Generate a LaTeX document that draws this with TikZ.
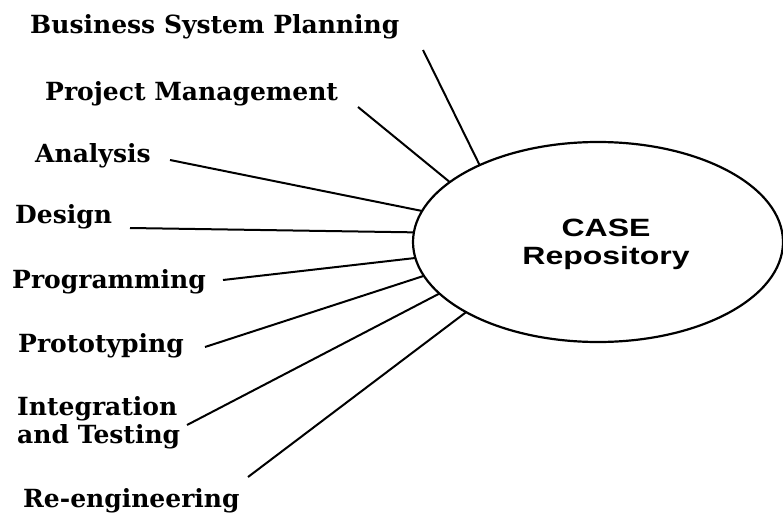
\documentclass[tikz,border=0pt]{standalone}
\usepackage{fontspec}
\usetikzlibrary{shapes.geometric}
\setmainfont{DejaVu Serif}
\newfontfamily\lblfont{DejaVu Serif Bold}
\newfontfamily\casefont[FakeStretch=1.28]{Liberation Sans Bold}
\begin{document}
\begin{tikzpicture}[x=1pt,y=-1pt,
  lbl/.style={anchor=base west,inner sep=0pt,font=\lblfont\fontsize{25}{28}\selectfont,align=left},
  spoke/.style={line width=2pt},
  repo/.style={draw,ellipse,line width=2.2pt,minimum width=370pt,minimum height=200pt,inner sep=0pt,outer sep=0pt},
  repotext/.style={align=center,inner sep=0pt,font=\casefont\fontsize{25}{28}\selectfont}]
\useasboundingbox (0,0) rectangle (783,516);
\node[repo] (case) at (598,242) {};
\node[repotext] (caset) at (606,244) {CASE\\Repository};
\node[lbl] (l1) at (30,34) {Business System Planning};
\node[lbl] (l2) at (45,100) {Project Management};
\node[lbl] (l3) at (35,162) {Analysis};
\node[lbl] (l4) at (15,223) {Design};
\node[lbl] (l5) at (12,288) {Programming};
\node[lbl] (l6) at (18,352) {Prototyping};
\node[lbl] (l7) at (17,443) {Integration\\and Testing};
\node[lbl] (l8) at (23,507) {Re-engineering};
\coordinate (b1) at (423,50);
\coordinate (b2) at (358,107);
\coordinate (b3) at (170,160);
\coordinate (b4) at (130,228);
\coordinate (b5) at (223,280);
\coordinate (b6) at (205,347);
\coordinate (b7) at (187,425);
\coordinate (b8) at (248,477);
\draw[spoke] (b1) -- (case.147.5);
\draw[spoke] (b2) -- (case.158.2);
\draw[spoke] (b3) -- (case.170.5);
\draw[spoke] (b4) -- (case.177.8);
\draw[spoke] (b5) -- (case.185);
\draw[spoke] (b6) -- (case.191.6);
\draw[spoke] (b7) -- (case.198.1);
\draw[spoke] (b8) -- (case.208.9);
\end{tikzpicture}
\end{document}
